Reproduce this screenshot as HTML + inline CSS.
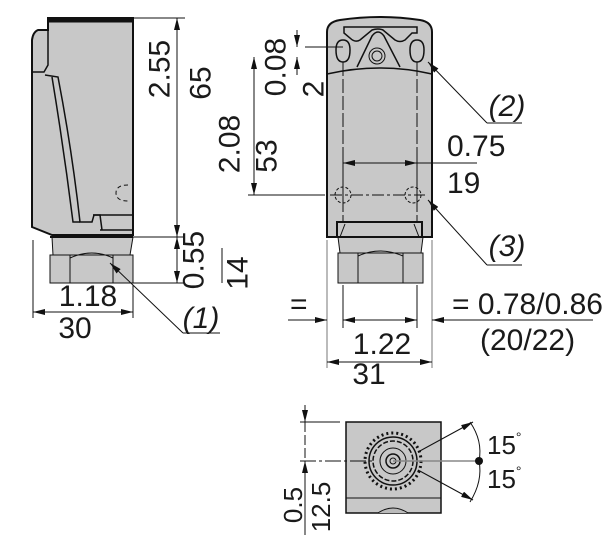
<!DOCTYPE html>
<html><head><meta charset="utf-8"><style>
html,body{margin:0;padding:0;background:#fff;}
svg{display:block;}
text{font-family:"Liberation Sans",Arial,sans-serif;fill:#1a1a1a;}
</style></head><body>
<svg width="604" height="544" viewBox="0 0 604 544" xmlns="http://www.w3.org/2000/svg">
<defs>
<marker id="a" viewBox="0 0 12 6" refX="12" refY="3" markerWidth="12" markerHeight="6" markerUnits="userSpaceOnUse" orient="auto-start-reverse">
<path d="M0,0 L12,3 L0,6 z" fill="#111"/></marker>
</defs>
<g stroke="#111" stroke-width="1" fill="none">
<!-- LEFT VIEW -->
<path d="M48,30 L38,30 Q33,32 32,40 L32,227 L52,235 L133,235 L133,18 L48,18 Z" fill="#c8c8c8" stroke-width="2"/>
<rect x="48" y="18" width="85" height="4" fill="#111"/>
<path d="M48,22 L48,65 L44,72 L32,72" stroke-width="1.5"/>
<path d="M45,75 L58,77 Q72,150 80,222 L92,222 L94,215 L100,215 L102,230" fill="none" stroke-width="1.5"/>
<path d="M52,77 Q64,150 73,222 L80,222" stroke-width="1.5"/>
<path d="M93,215 L133,215 M100,230 L133,230" stroke-width="1.5"/>
<path d="M128,185 Q116,185 116,193 Q116,201 128,201" stroke-dasharray="4,3"/>
<path d="M52,237 L133,237 L130,255 L133,255 L133,283 L50,283 L50,255 L53,255 Z" fill="#c8c8c8"/>
<line x1="50" y1="255" x2="133" y2="255"/>
<path d="M70,255 L70,283 M113,255 L113,283 M70,258 Q92,248 113,258"/>
<line x1="50" y1="237" x2="133" y2="237" stroke-width="2"/>
<!-- left dims -->
<line x1="133" y1="18" x2="185" y2="18"/>
<line x1="133" y1="237" x2="185" y2="237"/>
<line x1="133" y1="283" x2="185" y2="283"/>
<line x1="177" y1="18" x2="177" y2="237" marker-start="url(#a)" marker-end="url(#a)"/>
<line x1="177" y1="237" x2="177" y2="283" marker-start="url(#a)" marker-end="url(#a)"/>
<line x1="222" y1="248" x2="222" y2="283"/>
<line x1="33" y1="240" x2="33" y2="318"/>
<line x1="133" y1="285" x2="133" y2="318"/>
<line x1="33" y1="312" x2="133" y2="312" marker-start="url(#a)" marker-end="url(#a)"/>
<line x1="183" y1="333" x2="110" y2="263" marker-end="url(#a)"/>
<line x1="183" y1="333" x2="220" y2="333"/>
<!-- MIDDLE VIEW -->
<path d="M327,237 L327,32 Q327,22 340,20 Q380,14 420,20 Q432,22 432,32 L432,237 Z" fill="#c8c8c8" stroke-width="2"/>
<path d="M327,74 Q380,62 432,74" stroke-width="1.5"/>
<path d="M344,33 L344,27 L417,27 L417,33 L412,33 L405,40 Q400,43 395,40 L383,30 Q378,28 372,30 L360,40 Q355,43 350,38 Z" stroke-width="1.5"/>
<path d="M357,67 L372,36 Q378,28 384,36 L400,67" stroke-width="1.5"/>
<circle cx="377" cy="56" r="8"/><circle cx="377" cy="56" r="5"/>
<path d="M336,50 Q336,40 343,40 Q350,40 350,50 Q350,62 343,62 Q336,62 336,50 Z" stroke-width="1.5"/>
<path d="M410,50 Q410,40 417,40 Q424,40 424,50 Q424,62 417,62 Q410,62 410,50 Z" stroke-width="1.5"/>
<rect x="337" y="222" width="85" height="15" stroke-width="2"/>
<path d="M345,224 L340,237 M414,224 L419,237"/>
<path d="M338,237 L423,237 L421,253 L423,253 L423,283 L338,283 L338,253 L340,253 Z" fill="#c8c8c8"/>
<line x1="338" y1="253" x2="423" y2="253"/>
<path d="M358,253 L358,283 M403,253 L403,283 M358,256 Q380,246 403,256"/>
<line x1="327" y1="237" x2="432" y2="237" stroke-width="2"/>
<path d="M343,62 L343,222 M417,62 L417,222" stroke-dasharray="14,3"/>
<circle cx="343" cy="195" r="8" stroke-dasharray="3,2"/>
<circle cx="413" cy="195" r="8" stroke-dasharray="3,2"/>
<line x1="248" y1="195" x2="325" y2="195"/>
<line x1="330" y1="195" x2="425" y2="195" stroke-dasharray="12,3,3,3"/>
<line x1="254" y1="57" x2="254" y2="195" marker-start="url(#a)" marker-end="url(#a)"/>
<line x1="297" y1="30" x2="297" y2="47" marker-end="url(#a)"/>
<line x1="297" y1="75" x2="297" y2="57" marker-end="url(#a)"/>
<line x1="305" y1="47" x2="343" y2="47"/>
<line x1="343" y1="148" x2="343" y2="200"/>
<line x1="417" y1="148" x2="417" y2="200"/>
<line x1="343" y1="163" x2="477" y2="163" marker-start="url(#a)"/>
<line x1="405" y1="163" x2="417" y2="163" marker-end="url(#a)"/>
<line x1="487" y1="123" x2="428" y2="62" marker-end="url(#a)"/>
<line x1="487" y1="123" x2="522" y2="123"/>
<line x1="487" y1="265" x2="428" y2="200" marker-end="url(#a)"/>
<line x1="487" y1="265" x2="522" y2="265"/>
<line x1="327" y1="240" x2="327" y2="368" stroke="#777"/>
<line x1="432" y1="240" x2="432" y2="368" stroke="#777"/>
<line x1="343" y1="285" x2="343" y2="328"/>
<line x1="417" y1="285" x2="417" y2="328"/>
<line x1="288" y1="320" x2="327" y2="320" marker-end="url(#a)"/>
<line x1="343" y1="320" x2="417" y2="320" marker-start="url(#a)" marker-end="url(#a)"/>
<line x1="593" y1="320" x2="432" y2="320" marker-end="url(#a)"/>
<line x1="327" y1="362" x2="432" y2="362" marker-start="url(#a)" marker-end="url(#a)"/>
<!-- BOTTOM VIEW -->
<rect x="346" y="422" width="95" height="91" fill="#c8c8c8" stroke-width="1.5"/>
<line x1="346" y1="498" x2="441" y2="498"/>
<path d="M378,513 Q393,503 408,513" fill="#bbb"/>
<circle cx="393" cy="461" r="28" stroke-dasharray="2,3" stroke-width="3"/>
<circle cx="393" cy="461" r="24" stroke-width="1.5"/>
<circle cx="393" cy="461" r="20" stroke-width="1.5" stroke-dasharray="5,2"/>
<circle cx="393" cy="461" r="13"/>
<circle cx="393" cy="461" r="7" stroke-width="1.5"/>
<circle cx="393" cy="461" r="3"/>
<line x1="300" y1="422" x2="340" y2="422"/>
<line x1="300" y1="461" x2="372" y2="461" stroke-dasharray="16,3,3,3"/>
<line x1="393" y1="461" x2="479" y2="461" stroke="#888" stroke-width="1.5"/>
<line x1="305" y1="405" x2="305" y2="422" marker-end="url(#a)"/>
<line x1="305" y1="422" x2="305" y2="461" stroke-dasharray="10,3"/>
<line x1="305" y1="535" x2="305" y2="461" marker-end="url(#a)"/>
<path d="M470,422 Q483,441 479,461 Q483,481 470,502"/>
<line x1="418" y1="452" x2="473" y2="422" marker-end="url(#a)"/>
<line x1="418" y1="470" x2="473" y2="500" marker-end="url(#a)"/>
</g>
<circle cx="479" cy="461" r="4" fill="#111"/>
<g font-size="30">
<text transform="translate(160,69) rotate(-90)" text-anchor="middle" dominant-baseline="central">2.55</text>
<text transform="translate(201,83) rotate(-90)" text-anchor="middle" dominant-baseline="central">65</text>
<text transform="translate(194,260) rotate(-90)" text-anchor="middle" dominant-baseline="central">0.55</text>
<text transform="translate(238,273) rotate(-90)" text-anchor="middle" dominant-baseline="central">14</text>
<text transform="translate(230,144) rotate(-90)" text-anchor="middle" dominant-baseline="central">2.08</text>
<text transform="translate(267,156) rotate(-90)" text-anchor="middle" dominant-baseline="central">53</text>
<text transform="translate(276,67) rotate(-90)" text-anchor="middle" dominant-baseline="central">0.08</text>
<text transform="translate(314,89) rotate(-90)" text-anchor="middle" dominant-baseline="central">2</text>
<text x="88" y="306" text-anchor="middle">1.18</text>
<text x="75" y="338" text-anchor="middle">30</text>
<text x="201" y="328" text-anchor="middle" font-style="italic">(1)</text>
<text x="507" y="116" text-anchor="middle" font-style="italic">(2)</text>
<text x="507" y="256" text-anchor="middle" font-style="italic">(3)</text>
<text x="447" y="156">0.75</text>
<text x="447" y="193">19</text>
<text x="290" y="314">=</text>
<text x="452" y="314">= 0.78/0.86</text>
<text x="480" y="350">(20/22)</text>
<text x="382" y="354" text-anchor="middle">1.22</text>
<text x="369" y="384" text-anchor="middle">31</text>
</g>
<g font-size="26">
<text x="487" y="454">15<tspan font-size="14" dy="-12">°</tspan></text>
<text x="487" y="488">15<tspan font-size="14" dy="-12">°</tspan></text>
<text transform="translate(293,505) rotate(-90)" text-anchor="middle" dominant-baseline="central">0.5</text>
<text transform="translate(321,507) rotate(-90)" text-anchor="middle" dominant-baseline="central">12.5</text>
</g>
</svg>
</body></html>
